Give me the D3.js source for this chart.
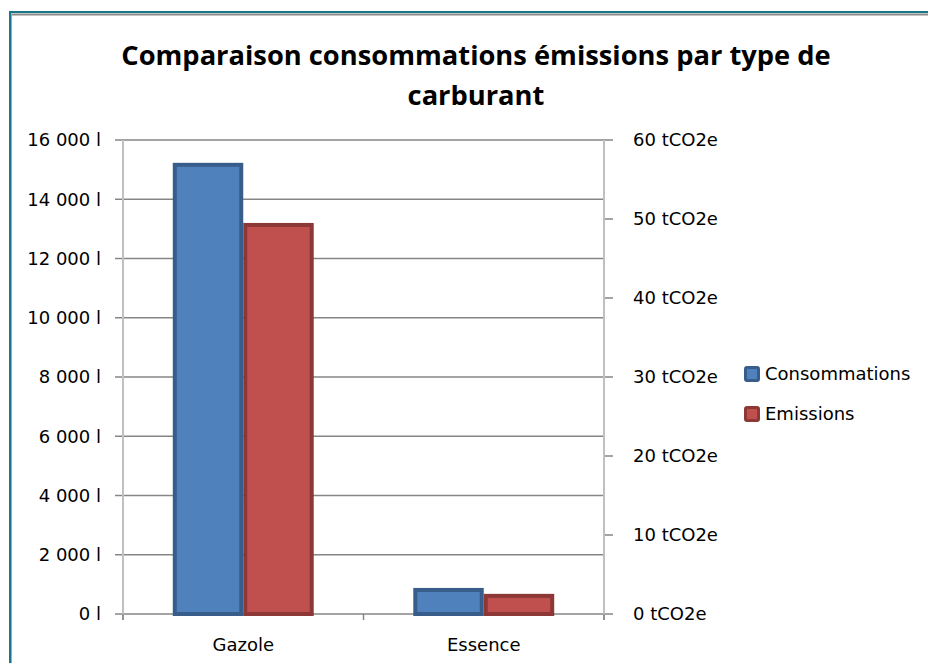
<!DOCTYPE html>
<html><head><meta charset="utf-8">
<script src="https://cdn.jsdelivr.net/npm/d3@7"></script>
<style>body{margin:0;background:#fff}svg{display:block}text{font-family:"DejaVu Sans",sans-serif}</style>
</head><body>
<svg id="c" width="928" height="663"></svg>
<script>
const categories = ["Gazole", "Essence"];
const seriesNames = ["Consommations", "Emissions"];
const consommations = [15230, 880];
const emissions = [49.5, 2.55];
const leftTicks = [0, 2000, 4000, 6000, 8000, 10000, 12000, 14000, 16000];
const rightTicks = [0, 10, 20, 30, 40, 50, 60];
const titleLines = ["Comparaison consommations émissions par type de", "carburant"];

const fills = ["#4F81BD", "#C0504D"];
const strokes = ["#385D8A", "#8C3836"];

const svg = d3.select("#c");
const L = 123, R = 604, T = 140, B = 614;

// frame
svg.append("line").attr("x1", 9).attr("x2", 928).attr("y1", 12).attr("y2", 12).attr("stroke", "#17788C").attr("stroke-width", 2);
svg.append("line").attr("x1", 11).attr("x2", 928).attr("y1", 14.5).attr("y2", 14.5).attr("stroke", "#8a8a8a").attr("stroke-width", 2);
svg.append("line").attr("x1", 10).attr("x2", 10).attr("y1", 11).attr("y2", 663).attr("stroke", "#17788C").attr("stroke-width", 2);
svg.append("line").attr("x1", 11.5).attr("x2", 11.5).attr("y1", 14).attr("y2", 663).attr("stroke", "#9aaab0").attr("stroke-width", 1);

// title
svg.selectAll("text.title").data(titleLines).join("text")
  .attr("class", "title")
  .attr("x", 476).attr("y", (d, i) => 65 + i * 40)
  .attr("text-anchor", "middle")
  .attr("font-weight", "bold").attr("font-size", 27.3)
  .style("font-family", "'Open Sans', sans-serif")
  .attr("fill", "#000")
  .text(d => d);

const y = d3.scaleLinear().domain([0, 16000]).range([B, T]);
const y2 = d3.scaleLinear().domain([0, 60]).range([B, T]);
const x0 = d3.scaleBand().domain(categories).range([L, R]).paddingInner(0.414).paddingOuter(0.207);
const x1 = d3.scaleBand().domain(seriesNames).range([0, x0.bandwidth()]);

// gridlines
svg.append("g").selectAll("line").data(leftTicks).join("line")
  .attr("x1", L - 8).attr("x2", R).attr("y1", d => y(d)).attr("y2", d => y(d))
  .attr("stroke", "#868686").attr("stroke-width", 1.5);

// right ticks
svg.append("g").selectAll("line").data(rightTicks).join("line")
  .attr("x1", R).attr("x2", R + 9).attr("y1", d => y2(d)).attr("y2", d => y2(d))
  .attr("stroke", "#868686").attr("stroke-width", 1.5);

// axis lines
svg.append("line").attr("x1", L).attr("x2", L).attr("y1", T).attr("y2", B + 6).attr("stroke", "#c0c0c0").attr("stroke-width", 2);
svg.append("line").attr("x1", R).attr("x2", R).attr("y1", T).attr("y2", B + 6).attr("stroke", "#c0c0c0").attr("stroke-width", 2);
// category boundary ticks
const bounds = [L, (x0(categories[0]) + x0.bandwidth() + x0(categories[1])) / 2, R];
svg.append("g").selectAll("line").data(bounds).join("line")
  .attr("x1", d => d).attr("x2", d => d).attr("y1", B).attr("y2", B + 6)
  .attr("stroke", "#868686").attr("stroke-width", 1.5);

// labels
const fmt = v => d3.format(",")(v).replace(/,/g, " ");
svg.append("g").selectAll("text").data(leftTicks).join("text")
  .attr("x", 101).attr("y", d => y(d)).attr("dy", "0.36em")
  .attr("text-anchor", "end").attr("font-size", 18).attr("fill", "#000")
  .text(d => fmt(d) + " l");
svg.append("g").selectAll("text").data(rightTicks).join("text")
  .attr("x", 633).attr("y", d => y2(d)).attr("dy", "0.36em")
  .attr("text-anchor", "start").attr("font-size", 18).attr("fill", "#000")
  .text(d => d + " tCO2e");
svg.append("g").selectAll("text").data(categories).join("text")
  .attr("x", d => x0(d) + x0.bandwidth() / 2).attr("y", 645).attr("dy", "0.36em")
  .attr("text-anchor", "middle").attr("font-size", 18).attr("fill", "#000")
  .text(d => d);

// bars
const sw = 4;
const rows = categories.map((c, i) => ({c, vals: [
  {s: seriesNames[0], y: y(consommations[i]), k: 0},
  {s: seriesNames[1], y: y2(emissions[i]), k: 1}
]}));
const g = svg.append("g").selectAll("g").data(rows).join("g")
  .attr("transform", d => `translate(${x0(d.c)},0)`);
g.selectAll("rect").data(d => d.vals).join("rect")
  .attr("x", d => x1(d.s) + sw / 2)
  .attr("y", d => d.y + sw / 2)
  .attr("width", x1.bandwidth() - sw)
  .attr("height", d => B - d.y - sw / 2)
  .attr("fill", d => fills[d.k]).attr("stroke", d => strokes[d.k]).attr("stroke-width", sw);

// legend
const lg = svg.append("g").selectAll("g").data(seriesNames).join("g")
  .attr("transform", (d, i) => `translate(744, ${374 + i * 40})`);
lg.append("rect").attr("x", 1.5).attr("y", -6.5).attr("width", 13).attr("height", 13).attr("rx", 1.5)
  .attr("fill", (d, i) => fills[i]).attr("stroke", (d, i) => strokes[i]).attr("stroke-width", 3);
lg.append("text").attr("x", 21).attr("y", 0).attr("dy", "0.36em").attr("font-size", 18).attr("fill", "#000").text(d => d);
</script>
</body></html>
